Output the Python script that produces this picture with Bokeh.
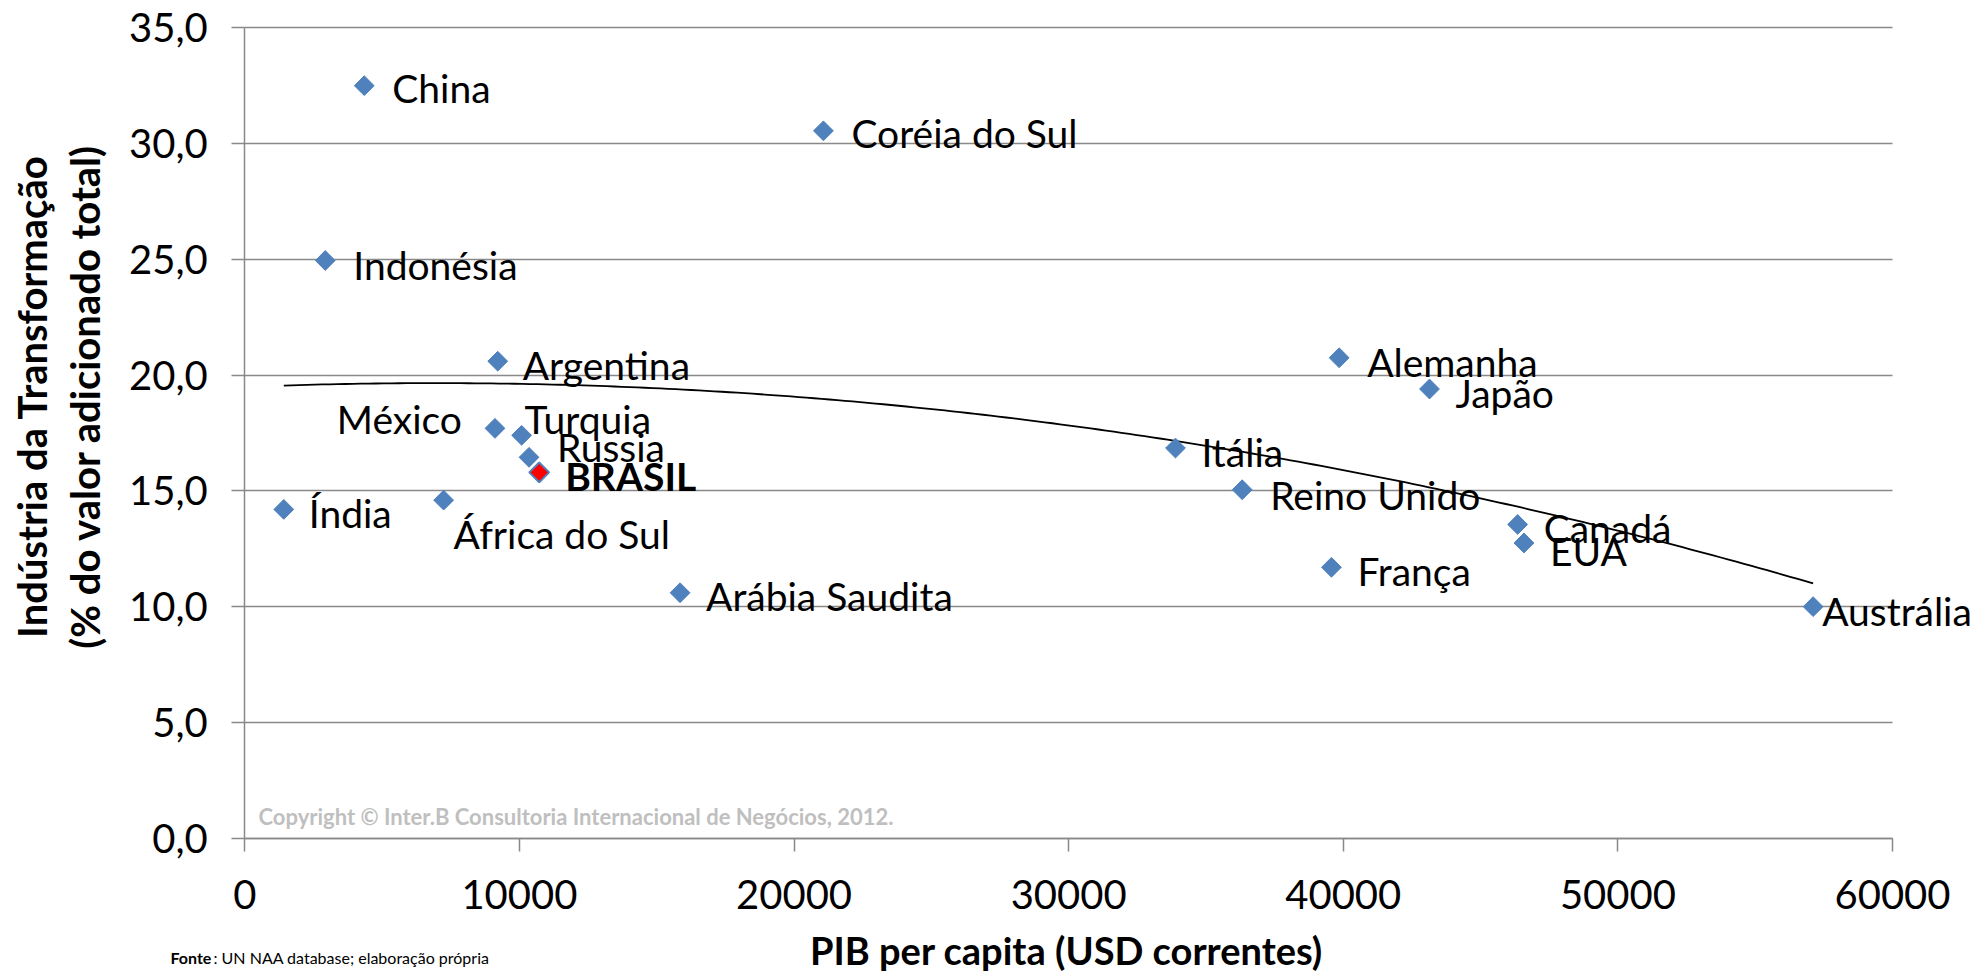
import numpy as np
from bokeh.plotting import figure
from bokeh.models import (ColumnDataSource, Range1d, FixedTicker, LabelSet, Label,
                          CustomJSTickFormatter, Grid)
from bokeh.core.properties import value
from bokeh.embed import file_html
from bokeh.resources import INLINE

# ---------------- data ----------------
countries = ["China", "Coréia do Sul", "Indonésia", "Argentina", "México", "Turquia",
             "Russia", "BRASIL", "Índia", "África do Sul", "Arábia Saudita", "Alemanha",
             "Japão", "Itália", "Reino Unido", "Canadá", "EUA", "França", "Austrália"]
gdp_per_capita = [4350, 21070, 2930, 9210, 9110, 10080, 10350, 10720, 1420, 7240,
                  15850, 39850, 43140, 33890, 36320, 46350, 46580, 39570, 57110]
manuf_share = [32.5, 30.55, 24.95, 20.6, 17.7, 17.4, 16.45, 15.8, 14.2, 14.6,
               10.6, 20.75, 19.4, 16.85, 15.05, 13.55, 12.75, 11.7, 10.0]
highlight = "BRASIL"
x_ticks = [0, 10000, 20000, 30000, 40000, 50000, 60000]
y_ticks = [0, 5, 10, 15, 20, 25, 30, 35]

x_title = "PIB per capita (USD correntes)"
y_title_1 = "Indústria da Transformação"
y_title_2 = "(% do valor adicionado total)"
copyright_text = "Copyright © Inter.B Consultoria Internacional de Negócios, 2012."
source_bold = "Fonte"
source_rest = ": UN NAA database; elaboração própria"

# ---------------- layout (pixels) ----------------
W, H = 1972, 973
PLOT_L, PLOT_R, PLOT_T, PLOT_B = 244.3, 1892.0, 27.3, 837.7
x0, x1 = x_ticks[0], x_ticks[-1]
y0, y1 = y_ticks[0], y_ticks[-1]
sx = (PLOT_R - PLOT_L) / (x1 - x0)
sy = (PLOT_B - PLOT_T) / (y1 - y0)
x_range = Range1d(x0 - PLOT_L / sx, x1 + (W - PLOT_R) / sx)
y_range = Range1d(y0 - (H - PLOT_B) / sy, y1 + PLOT_T / sy)

label_offsets = {
    "China": (28, -2), "Coréia do Sul": (28, -2), "Indonésia": (28, -4),
    "Argentina": (25, -4), "México": (-33, 9), "Turquia": (3, 16),
    "Russia": (28, 10), "BRASIL": (26, -4), "Índia": (25, -4),
    "África do Sul": (10, -34), "Arábia Saudita": (26, -3), "Alemanha": (28, -4),
    "Japão": (26, -4), "Itália": (26, -4), "Reino Unido": (28, -5),
    "Canadá": (26, -4), "EUA": (26, -8), "França": (26, -4), "Austrália": (9, -4),
}
right_aligned = {"México"}

BLUE = "#4F81BD"
GRID = "#898989"
FONT = "Lato"

src = ColumnDataSource(dict(
    x=gdp_per_capita,
    y=manuf_share,
    name=countries,
    dx=[label_offsets[c][0] for c in countries],
    dy=[label_offsets[c][1] for c in countries],
    align=["right" if c in right_aligned else "left" for c in countries],
    fstyle=["bold" if c == highlight else "normal" for c in countries],
    fill=["#FF0000" if c == highlight else BLUE for c in countries],
    lw=[2 if c == highlight else 1 for c in countries],
))

p = figure(width=W, height=H, x_range=x_range, y_range=y_range,
           output_backend="svg", toolbar_location=None, min_border=0)
p.outline_line_color = None
p.background_fill_color = "white"
p.border_fill_color = "white"

# axes (fixed at the data origin, bounded to the tick range)
p.xaxis.ticker = FixedTicker(ticks=x_ticks)
p.yaxis.ticker = FixedTicker(ticks=y_ticks)
p.xaxis.formatter = CustomJSTickFormatter(code="return tick.toFixed(0);")
p.yaxis.formatter = CustomJSTickFormatter(code="return tick.toFixed(1).replace('.', ',');")
p.xaxis.fixed_location = y0
p.yaxis.fixed_location = x0
p.xaxis.bounds = (x0, x1)
p.yaxis.bounds = (y0, y1)
for ax in (p.xaxis, p.yaxis):
    ax.axis_line_color = GRID
    ax.axis_line_width = 1.5
    ax.major_tick_line_color = GRID
    ax.major_tick_line_width = 1.5
    ax.major_tick_in = 0
    ax.major_tick_out = 13
    ax.minor_tick_line_color = None
    ax.major_label_text_font = FONT
    ax.major_label_text_font_size = "40px"
    ax.major_label_text_color = "black"
p.xaxis.major_label_standoff = 29
p.yaxis.major_label_standoff = 24

p.xgrid.visible = False
p.ygrid.ticker = FixedTicker(ticks=y_ticks)
if "cross_bounds" in Grid.properties():
    p.ygrid.grid_line_color = GRID
    p.ygrid.grid_line_width = 1.5
    p.ygrid.cross_bounds = (x0, x1)
else:
    p.ygrid.visible = False
    p.segment(x0=[x0] * len(y_ticks), x1=[x1] * len(y_ticks), y0=y_ticks, y1=y_ticks,
              line_color=GRID, line_width=1.5)

# trend line (2nd order polynomial fit of the data)
coef = np.polyfit(gdp_per_capita, manuf_share, 2)
xs = np.linspace(min(gdp_per_capita), max(gdp_per_capita), 200)
p.line(xs, np.polyval(coef, xs), line_color="black", line_width=1.8)

# markers
p.scatter("x", "y", source=src, marker="square", angle=np.pi / 4, size=14,
          fill_color="fill", line_color=BLUE, line_width="lw")

labels = LabelSet(x="x", y="y", text="name", source=src, x_offset="dx", y_offset="dy",
                  text_align="align", text_baseline="middle", text_font=value(FONT),
                  text_font_size="39px", text_font_style="fstyle", text_color="black")
p.add_layout(labels)

# titles and notes (screen units, measured from bottom-left)
def note(x, y, text, size, style="normal", color="black", align="left", angle=0.0):
    p.add_layout(Label(x=x, y=y, x_units="screen", y_units="screen", text=text,
                       angle=angle, text_align=align, text_baseline="middle",
                       text_font=FONT, text_font_size=size, text_font_style=style,
                       text_color=color))

note(1066, 24, x_title, "38px", "bold", align="center")
note(31, H - 396, y_title_1, "40px", "bold", align="center", angle=np.pi / 2)
note(84, H - 396, y_title_2, "40px", "bold", align="center", angle=np.pi / 2)
note(258, H - 816, copyright_text, "22px", "bold", color="#BFBFBF")
note(170, H - 957, source_bold, "16px", "bold")
note(170 + 43, H - 957, source_rest, "16px")

open("out.html", "w").write(file_html(p, INLINE))
